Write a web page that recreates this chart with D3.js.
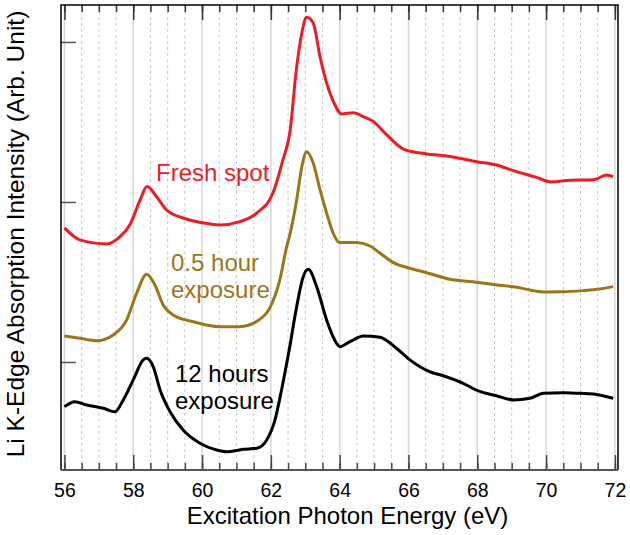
<!DOCTYPE html>
<html lang="en">
<head>
    <meta charset="UTF-8">
    <title>Li K-edge absorption</title>
    <script src="https://cdn.jsdelivr.net/npm/d3@7"></script>
    <style>
        body { margin: 0; background: #fff; }
        text { font-family: "Liberation Sans", Arial, sans-serif; }
    </style>
</head>
<body>
<script>
    // photon energy (eV) and intensity (arb. units)
    const freshE = [56.0, 56.45, 57.23, 57.6, 57.9, 58.2, 58.4, 58.68, 58.97, 59.45, 60.03, 60.52, 61.1, 61.59, 62.06, 62.35,
        62.55, 62.75, 62.9, 63.04, 63.23, 63.43, 63.62, 63.81, 64.06, 64.4, 64.69, 64.98, 65.37, 65.85, 66.53, 67.11,
        67.98, 68.56, 69.05, 69.72, 70.16, 70.7, 71.28, 71.47, 71.76, 71.95]
    const freshI = [1.838, 1.763, 1.738, 1.781, 1.856, 2.013, 2.096, 2.033, 1.95, 1.9, 1.869, 1.856, 1.877, 1.931, 2.056, 2.263,
        2.431, 2.844, 3.056, 3.154, 3.119, 2.906, 2.744, 2.63, 2.55, 2.558, 2.533, 2.502, 2.419, 2.331, 2.3, 2.288,
        2.252, 2.231, 2.196, 2.154, 2.125, 2.136, 2.138, 2.144, 2.169, 2.158]

    const halfE = [56.0, 56.45, 56.94, 57.42, 57.81, 58.1, 58.39, 58.63, 58.87, 59.16, 59.74, 60.52, 61.1, 61.68, 61.97, 62.26,
        62.46, 62.55, 62.75, 62.9, 63.04, 63.23, 63.43, 63.62, 63.81, 64.0, 64.48, 64.88, 65.17, 65.56, 66.04, 66.53,
        67.2, 67.98, 68.56, 69.15, 69.53, 69.97, 70.5, 71.08, 71.56, 71.95]
    const halfI = [1.163, 1.148, 1.133, 1.169, 1.263, 1.431, 1.548, 1.481, 1.356, 1.294, 1.252, 1.221, 1.221, 1.267, 1.338, 1.513,
        1.721, 1.794, 2.013, 2.221, 2.314, 2.244, 2.075, 1.931, 1.806, 1.746, 1.746, 1.725, 1.681, 1.621, 1.586, 1.558,
        1.517, 1.498, 1.481, 1.467, 1.45, 1.438, 1.439, 1.446, 1.456, 1.471]

    const longE = [56.0, 56.3, 56.65, 57.13, 57.47, 57.71, 58.0, 58.29, 58.39, 58.58, 58.78, 59.07, 59.45, 59.94, 60.42, 60.71,
        61.2, 61.59, 61.88, 62.12, 62.31, 62.55, 62.75, 62.94, 63.09, 63.33, 63.62, 63.91, 64.0, 64.3, 64.69, 65.17,
        65.65, 66.04, 66.62, 67.01, 67.59, 68.03, 68.56, 69.05, 69.53, 69.92, 70.5, 70.99, 71.37, 71.95]
    const longI = [0.721, 0.752, 0.731, 0.711, 0.689, 0.763, 0.888, 1.013, 1.023, 0.971, 0.825, 0.689, 0.575, 0.492, 0.45, 0.439,
        0.454, 0.461, 0.513, 0.638, 0.825, 1.096, 1.346, 1.533, 1.579, 1.471, 1.263, 1.117, 1.096, 1.127, 1.163, 1.154,
        1.086, 1.013, 0.939, 0.914, 0.867, 0.819, 0.789, 0.763, 0.773, 0.804, 0.808, 0.804, 0.8, 0.773]

    const xMajor = [56, 58, 60, 62, 64, 66, 68, 70, 72]
    const xMinor = d3.range(56, 72.01, 0.5)
    const yTicks = [1, 2, 3]

    const series = [
        {E: freshE, I: freshI, color: '#ec1c24'},
        {E: halfE, I: halfI, color: '#9d7519'},
        {E: longE, I: longI, color: '#000000'}
    ]
    const notes = [
        {lines: ['Fresh spot'], x: 156, y: 181, color: '#ec1c24'},
        {lines: ['0.5 hour', 'exposure'], x: 171, y: 271, color: '#9d7519'},
        {lines: ['12 hours', 'exposure'], x: 175, y: 382, color: '#000000'}
    ]

    const [width, height] = [630, 535]
    const margin = {left: 61, right: 12, top: 5, bottom: 65}
    const x = d3.scaleLinear().domain([55.9, 72.09]).range([margin.left, width - margin.right])
    const y = d3.scaleLinear().domain([0.325, 3.231]).range([height - margin.bottom, margin.top])

    const svg = d3.select('body').append('svg')
        .attr('width', width)
        .attr('height', height)

    // grid
    svg.append('g').selectAll('line').data(xMinor.filter(d => d % 2 !== 0))
        .enter().append('line')
        .attr('x1', d => x(d)).attr('x2', d => x(d))
        .attr('y1', y.range()[0]).attr('y2', y.range()[1])
        .attr('stroke', '#c8c8c8').attr('stroke-dasharray', '3,3')
    svg.append('g').selectAll('line').data(xMajor)
        .enter().append('line')
        .attr('x1', d => x(d)).attr('x2', d => x(d))
        .attr('y1', y.range()[0]).attr('y2', y.range()[1])
        .attr('stroke', '#d6d6d6').attr('stroke-width', 1.5)

    const bottom = height - margin.bottom
    // bottom axis: inside ticks
    svg.append('g').attr('transform', `translate(0,${bottom})`)
        .call(d3.axisBottom(x).tickValues(xMinor).tickSize(-7).tickFormat(''))
        .call(g => g.select('.domain').remove())
        .selectAll('line').attr('stroke', '#444').attr('stroke-width', 1.5)
    svg.append('g').attr('transform', `translate(0,${bottom})`)
        .call(d3.axisBottom(x).tickValues(xMajor).tickSize(-15).tickPadding(13).tickFormat(d3.format('d')))
        .call(g => g.select('.domain').remove())
        .call(g => g.selectAll('line').attr('stroke', '#444').attr('stroke-width', 1.5))
        .call(g => g.selectAll('text').attr('font-size', 19.5).attr('fill', '#000')
            .attr('font-family', '"Liberation Sans", Arial, sans-serif'))

    // top axis: inside ticks
    svg.append('g').attr('transform', `translate(0,${margin.top})`)
        .call(d3.axisTop(x).tickValues(xMinor).tickSize(-7).tickFormat(''))
        .call(g => g.select('.domain').remove())
        .selectAll('line').attr('stroke', '#333').attr('stroke-width', 1.5)
    svg.append('g').attr('transform', `translate(0,${margin.top})`)
        .call(d3.axisTop(x).tickValues(xMajor).tickSize(-15).tickFormat(''))
        .call(g => g.select('.domain').remove())
        .selectAll('line').attr('stroke', '#333').attr('stroke-width', 1.5)

    // left axis ticks, no labels
    svg.append('g').attr('transform', `translate(${margin.left},0)`)
        .call(d3.axisLeft(y).tickValues(yTicks).tickSize(-15).tickFormat(''))
        .call(g => g.select('.domain').remove())
        .selectAll('line').attr('stroke', '#555').attr('stroke-width', 1.5)

    // frame
    const [x0, x1] = x.range()
    svg.append('path')
        .attr('d', `M${x0},${bottom}V${margin.top}H${x1}V${bottom}`)
        .attr('fill', 'none').attr('stroke', '#000').attr('stroke-width', 1.5)
    svg.append('line')
        .attr('x1', x0).attr('x2', x1).attr('y1', bottom).attr('y2', bottom)
        .attr('stroke', '#555').attr('stroke-width', 2)

    // curves
    const line = d3.line()
        .x(d => x(d[0]))
        .y(d => y(d[1]))
        .curve(d3.curveMonotoneX)
    svg.append('g').selectAll('path').data(series)
        .enter().append('path')
        .attr('d', s => line(d3.zip(s.E, s.I)))
        .attr('fill', 'none')
        .attr('stroke', s => s.color)
        .attr('stroke-width', 3)
        .attr('stroke-linejoin', 'round')

    // annotations
    notes.forEach(n => {
        const t = svg.append('text')
            .attr('x', n.x).attr('y', n.y)
            .attr('fill', n.color).attr('font-size', 24)
        n.lines.forEach((l, i) => {
            t.append('tspan').attr('x', n.x).attr('dy', i === 0 ? 0 : 27).text(l)
        })
    })

    // axis titles
    svg.append('text')
        .attr('x', (x0 + x1) / 2 + 8).attr('y', 524)
        .attr('text-anchor', 'middle').attr('font-size', 24)
        .text('Excitation Photon Energy (eV)')
    svg.append('text')
        .attr('transform', 'translate(24,234) rotate(-90)')
        .attr('text-anchor', 'middle').attr('font-size', 24.5)
        .text('Li K-Edge Absorption Intensity (Arb. Unit)')
</script>
</body>
</html>
